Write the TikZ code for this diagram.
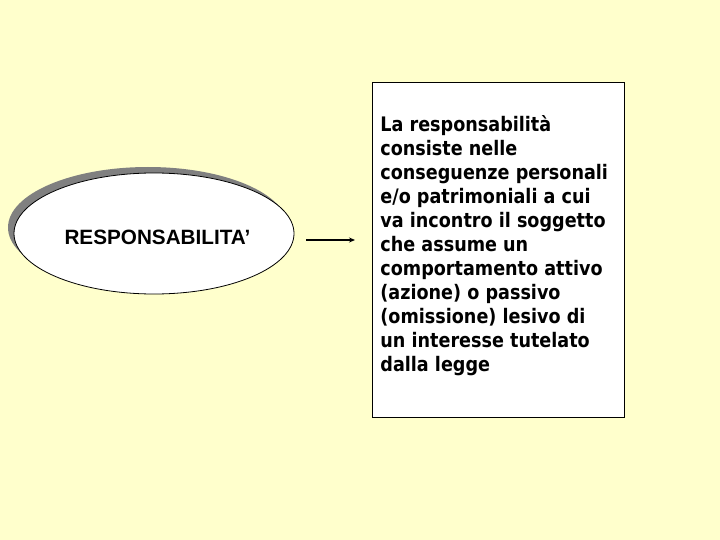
\documentclass[tikz,border=0pt]{standalone}
\usepackage{fontspec}
\setmainfont{Liberation Sans}
\newfontfamily\defnfont[FakeStretch=0.88]{DejaVu Sans}
\usetikzlibrary{shapes.geometric,shadows,calc,positioning,arrows.meta}
\definecolor{slidebg}{RGB}{255,255,204}
\definecolor{shadowgray}{RGB}{128,128,128}

\begin{document}
\begin{tikzpicture}
	[x=1pt,y=-1pt,line width=0.8pt,
	bubble/.style={shape=ellipse,draw,fill=white,minimum width=280pt,minimum 
		height=121pt,drop shadow={shadow xshift=-6pt,shadow yshift=6pt,fill=shadowgray,opacity=1}},
	defbox/.style={shape=rectangle,draw,fill=white,minimum width=252pt,minimum height=335pt}]
	\useasboundingbox[fill=slidebg] (0,0) rectangle (720,540);
	\node[bubble] (resp) at (154,233.5) {};
	\node[anchor=base,inner sep=0pt,font=\bfseries\fontsize{20.7}{24}\selectfont] (respname) at (157.5,244) {RESPONSABILITA’};
	\node[defbox] (defn) at (498,249.5) {};
	\node[anchor=base west,inner sep=0pt,align=left,font=\defnfont\bfseries\fontsize{20}{24}\selectfont] (defntext) at (380,371)
		{La responsabilità\\consiste nelle\\conseguenze personali\\e/o patrimoniali a cui\\va incontro il soggetto\\che assume un\\comportamento attivo\\(azione) o passivo\\(omissione) lesivo di\\un interesse tutelato\\dalla legge};

	\coordinate (arrstart) at (306,240);
	\coordinate (arrend) at (355,240);
	\draw [-{Stealth[length=6pt,width=5pt]},line width=1.4pt] (arrstart) to (arrend);
\end{tikzpicture}
\end{document}
